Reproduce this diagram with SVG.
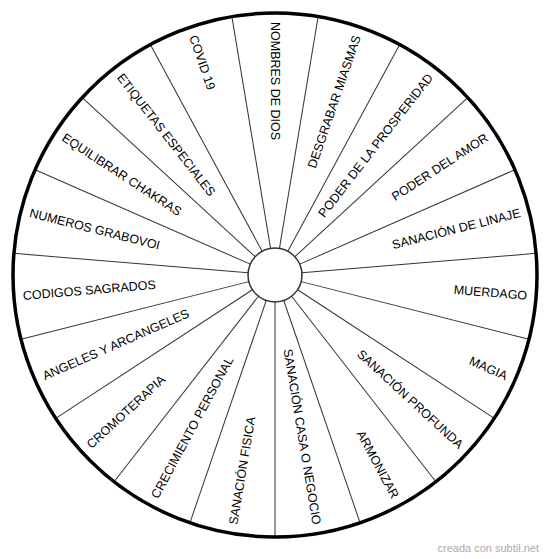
<svg xmlns="http://www.w3.org/2000/svg" width="550" height="559" viewBox="0 0 550 559">
<style>
.bg{fill:#fff}
.ring{fill:none;stroke:#000;stroke-width:3.5}
.hub{fill:#fff;stroke:#333;stroke-width:1.5}
.spoke{stroke:#333;stroke-width:1}
.lbl{font-family:"Liberation Sans",Arial,sans-serif;font-size:12.5px;fill:#000}
.r{text-anchor:end}
.mark{font-family:"Liberation Sans",Arial,sans-serif;font-size:11px;fill:#aaa;text-anchor:end}
</style>
<rect class="bg" x="0" y="0" width="550" height="559"/>
<g id="connectors">
<line class="spoke" x1="302" y1="275" x2="537" y2="275" transform="rotate(90 275 275)"/>
<line class="spoke" x1="302" y1="275" x2="537" y2="275" transform="rotate(108.947 275 275)"/>
<line class="spoke" x1="302" y1="275" x2="537" y2="275" transform="rotate(127.895 275 275)"/>
<line class="spoke" x1="302" y1="275" x2="537" y2="275" transform="rotate(146.842 275 275)"/>
<line class="spoke" x1="302" y1="275" x2="537" y2="275" transform="rotate(165.789 275 275)"/>
<line class="spoke" x1="302" y1="275" x2="537" y2="275" transform="rotate(184.737 275 275)"/>
<line class="spoke" x1="302" y1="275" x2="537" y2="275" transform="rotate(203.684 275 275)"/>
<line class="spoke" x1="302" y1="275" x2="537" y2="275" transform="rotate(222.632 275 275)"/>
<line class="spoke" x1="302" y1="275" x2="537" y2="275" transform="rotate(241.579 275 275)"/>
<line class="spoke" x1="302" y1="275" x2="537" y2="275" transform="rotate(260.526 275 275)"/>
<line class="spoke" x1="302" y1="275" x2="537" y2="275" transform="rotate(279.474 275 275)"/>
<line class="spoke" x1="302" y1="275" x2="537" y2="275" transform="rotate(298.421 275 275)"/>
<line class="spoke" x1="302" y1="275" x2="537" y2="275" transform="rotate(317.368 275 275)"/>
<line class="spoke" x1="302" y1="275" x2="537" y2="275" transform="rotate(336.316 275 275)"/>
<line class="spoke" x1="302" y1="275" x2="537" y2="275" transform="rotate(355.263 275 275)"/>
<line class="spoke" x1="302" y1="275" x2="537" y2="275" transform="rotate(14.211 275 275)"/>
<line class="spoke" x1="302" y1="275" x2="537" y2="275" transform="rotate(33.158 275 275)"/>
<line class="spoke" x1="302" y1="275" x2="537" y2="275" transform="rotate(52.105 275 275)"/>
<line class="spoke" x1="302" y1="275" x2="537" y2="275" transform="rotate(71.053 275 275)"/>
</g>
<circle id="rim" class="ring" cx="275" cy="275" r="262"/>
<circle id="hub" class="hub" cx="275" cy="275" r="27"/>
<g id="s-nombres"><text class="lbl" x="22" y="279" transform="rotate(90 275 275)">NOMBRES DE DIOS</text></g>
<g id="s-desgrabar"><text class="lbl r" x="528" y="279" transform="rotate(-71.053 275 275)">DESGRABAR MIASMAS</text></g>
<g id="s-prosperidad"><text class="lbl r" x="528" y="279" transform="rotate(-52.105 275 275)">PODER DE LA PROSPERIDAD</text></g>
<g id="s-amor"><text class="lbl r" x="528" y="279" transform="rotate(-33.158 275 275)">PODER DEL AMOR</text></g>
<g id="s-linaje"><text class="lbl r" x="528" y="279" transform="rotate(-14.211 275 275)">SANACIÓN DE LINAJE</text></g>
<g id="s-muerdago"><text class="lbl r" x="528" y="279" transform="rotate(4.737 275 275)">MUERDAGO</text></g>
<g id="s-magia"><text class="lbl r" x="528" y="279" transform="rotate(23.684 275 275)">MAGIA</text></g>
<g id="s-profunda"><text class="lbl r" x="528" y="279" transform="rotate(42.632 275 275)">SANACIÓN PROFUNDA</text></g>
<g id="s-armonizar"><text class="lbl r" x="528" y="279" transform="rotate(61.579 275 275)">ARMONIZAR</text></g>
<g id="s-casa"><text class="lbl r" x="528" y="279" transform="rotate(80.526 275 275)">SANACIÓN CASA O NEGOCIO</text></g>
<g id="s-fisica"><text class="lbl" x="22" y="279" transform="rotate(-80.526 275 275)">SANACIÓN FISICA</text></g>
<g id="s-crecimiento"><text class="lbl" x="22" y="279" transform="rotate(-61.579 275 275)">CRECIMIENTO PERSONAL</text></g>
<g id="s-cromoterapia"><text class="lbl" x="22" y="279" transform="rotate(-42.632 275 275)">CROMOTERAPIA</text></g>
<g id="s-angeles"><text class="lbl" x="22" y="279" transform="rotate(-23.684 275 275)">ANGELES Y ARCANGELES</text></g>
<g id="s-codigos"><text class="lbl" x="22" y="279" transform="rotate(-4.737 275 275)">CODIGOS SAGRADOS</text></g>
<g id="s-grabovoi"><text class="lbl" x="22" y="279" transform="rotate(14.211 275 275)">NUMEROS GRABOVOI</text></g>
<g id="s-chakras"><text class="lbl" x="22" y="279" transform="rotate(33.158 275 275)">EQUILIBRAR CHAKRAS</text></g>
<g id="s-etiquetas"><text class="lbl" x="22" y="279" transform="rotate(52.105 275 275)">ETIQUETAS ESPECIALES</text></g>
<g id="s-covid"><text class="lbl" x="22" y="279" transform="rotate(71.053 275 275)">COVID 19</text></g>
<text class="mark" x="539" y="552">creada con subtil.net</text>
</svg>
